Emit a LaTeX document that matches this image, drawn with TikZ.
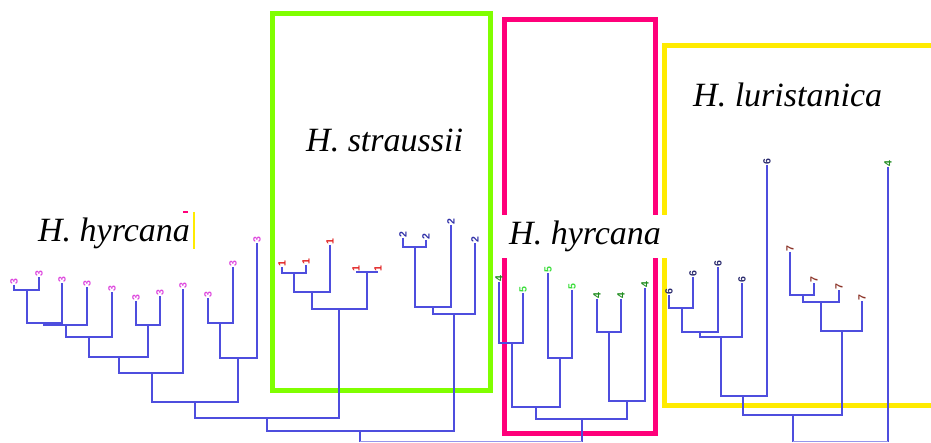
\documentclass[tikz,border=0pt]{standalone}
\usepackage{fontspec}
\setmainfont{Liberation Serif}
\newfontfamily\tipfont{Liberation Sans}
\definecolor{branchblue}{RGB}{78,78,222}
\definecolor{rootblue}{RGB}{150,150,235}
\definecolor{cthree}{RGB}{222,72,222}
\definecolor{cone}{RGB}{225,30,30}
\definecolor{ctwo}{RGB}{48,48,168}
\definecolor{cfive}{RGB}{60,222,60}
\definecolor{cfour}{RGB}{32,140,32}
\definecolor{csix}{RGB}{42,42,110}
\definecolor{cseven}{RGB}{140,52,40}
\definecolor{boxgreen}{RGB}{128,255,0}
\definecolor{boxpink}{RGB}{255,0,122}
\definecolor{boxyellow}{RGB}{255,235,0}
\tikzset{
  branch/.style={draw=branchblue, line width=1.8pt},
  rootline/.style={draw=rootblue, line width=1.1pt},
  tip/.style={rotate=90, anchor=west, inner sep=0.6pt, font=\tipfont\bfseries\fontsize{10.5}{11}\selectfont},
  groupbox/.style={line width=5pt},
  taxon/.style={anchor=base west, inner sep=0pt, font=\itshape\fontsize{34}{37}\selectfont},
}
% leaf: name, x, y, colour, digit
\newcommand\leafmark[5]{%
  \coordinate (#1) at (#2,#3);
  \node[tip, text=#4] (#1-t) at (#1) {#5};}
% internal node joining two children
\newcommand\clade[3]{\draw[branch] (#2) |- (#1) -| (#3);}
\begin{document}
\begin{tikzpicture}[x=1pt, y=-1pt]
\useasboundingbox (0,0) rectangle (931,443);
\clip (0,0) rectangle (931,443);
\fill[white] (0,0) rectangle (931,443);

% group frames
\draw[groupbox, boxgreen] (272.5,14) rectangle (490.5,390);
\draw[groupbox, boxpink] (504.5,20) rectangle (655,433.5);
\draw[groupbox, boxyellow] (664,45.5) rectangle (960,405);

% small marks beside the left label
\draw[boxyellow, line width=1.6pt] (194,212) -- (194,249);
\draw[boxpink, line width=2pt] (183,212) -- (187.5,212);

% ---- H. hyrcana (left clade)
\leafmark{h1}{14}{285}{cthree}{3}
\leafmark{h2}{39}{277}{cthree}{3}
\leafmark{h3}{62}{283}{cthree}{3}
\leafmark{h4}{87}{287}{cthree}{3}
\leafmark{h5}{112}{292}{cthree}{3}
\leafmark{h6}{136}{301}{cthree}{3}
\leafmark{h7}{160}{296}{cthree}{3}
\leafmark{h8}{183}{289}{cthree}{3}
\leafmark{h9}{208}{298}{cthree}{3}
\leafmark{h10}{233}{267}{cthree}{3}
\leafmark{h11}{257}{243}{cthree}{3}
\coordinate (n12) at (27,290);
\coordinate (n123) at (44,323);
\coordinate (n1234) at (66,325);
\coordinate (n1to5) at (89,337);
\coordinate (n67) at (148,325);
\coordinate (n1to7) at (119,357);
\coordinate (n1to8) at (152,373);
\coordinate (n910) at (220,323);
\coordinate (n9to11) at (238,358);
\coordinate (nhy) at (195,402);
\clade{n12}{h1}{h2}
\clade{n123}{n12}{h3}
\clade{n1234}{n123}{h4}
\clade{n1to5}{n1234}{h5}
\clade{n67}{h6}{h7}
\clade{n1to7}{n1to5}{n67}
\clade{n1to8}{n1to7}{h8}
\clade{n910}{h9}{h10}
\clade{n9to11}{n910}{h11}
\clade{nhy}{n1to8}{n9to11}

% ---- H. straussii, first subclade
\leafmark{s1}{282}{267}{cone}{1}
\leafmark{s2}{306}{265}{cone}{1}
\leafmark{s3}{330}{245}{cone}{1}
\leafmark{s4}{356}{272}{cone}{1}
\leafmark{s5}{378}{272}{cone}{1}
\coordinate (ns12) at (294,273);
\coordinate (ns123) at (312,292);
\coordinate (ns45) at (367,272);
\coordinate (nsa) at (339,309);
\clade{ns12}{s1}{s2}
\clade{ns123}{ns12}{s3}
\clade{ns45}{s4}{s5}
\clade{nsa}{ns123}{ns45}
\coordinate (na) at (267,418);
\clade{na}{nhy}{nsa}

% ---- H. straussii, second subclade
\leafmark{t1}{403}{238}{ctwo}{2}
\leafmark{t2}{426}{240}{ctwo}{2}
\leafmark{t3}{451}{225}{ctwo}{2}
\leafmark{t4}{475}{243}{ctwo}{2}
\coordinate (nt12) at (415,247);
\coordinate (nt123) at (433,307);
\coordinate (nsb) at (454,314);
\clade{nt12}{t1}{t2}
\clade{nt123}{nt12}{t3}
\clade{nsb}{nt123}{t4}
\coordinate (nb) at (360,431);
\clade{nb}{na}{nsb}

% ---- H. hyrcana (middle clade)
\leafmark{g1}{499}{282}{cfour}{4}
\leafmark{g2}{523}{293}{cfive}{5}
\leafmark{g3}{548}{273}{cfive}{5}
\leafmark{g4}{572}{290}{cfive}{5}
\leafmark{g5}{597}{299}{cfour}{4}
\leafmark{g6}{621}{299}{cfour}{4}
\leafmark{g7}{645}{288}{cfour}{4}
\coordinate (ng12) at (512,343);
\coordinate (ng34) at (560,358);
\coordinate (ng1to4) at (536,407);
\coordinate (ng56) at (609,332);
\coordinate (ng5to7) at (627,401);
\coordinate (ngh) at (582,419);
\clade{ng12}{g1}{g2}
\clade{ng34}{g3}{g4}
\clade{ng1to4}{ng12}{ng34}
\clade{ng56}{g5}{g6}
\clade{ng5to7}{ng56}{g7}
\clade{ngh}{ng1to4}{ng5to7}

% ---- H. luristanica
\leafmark{r1}{669}{295}{csix}{6}
\leafmark{r2}{693}{277}{csix}{6}
\leafmark{r3}{718}{267}{csix}{6}
\leafmark{r4}{742}{283}{csix}{6}
\leafmark{r5}{767}{165}{csix}{6}
\leafmark{r6}{790}{252}{cseven}{7}
\leafmark{r7}{814}{283}{cseven}{7}
\leafmark{r8}{839}{290}{cseven}{7}
\leafmark{r9}{862}{301}{cseven}{7}
\leafmark{r10}{888}{167}{cfour}{4}
\coordinate (nr12) at (682,308);
\coordinate (nr123) at (700,332);
\coordinate (nr1to4) at (721,337);
\coordinate (nr1to5) at (743,396);
\coordinate (nr67) at (803,295);
\coordinate (nr678) at (821,302);
\coordinate (nr6to9) at (842,331);
\coordinate (nrl) at (793,415);
\clade{nr12}{r1}{r2}
\clade{nr123}{nr12}{r3}
\clade{nr1to4}{nr123}{r4}
\clade{nr1to5}{nr1to4}{r5}
\clade{nr67}{r6}{r7}
\clade{nr678}{nr67}{r8}
\clade{nr6to9}{nr678}{r9}
\clade{nrl}{nr1to5}{nr6to9}

% ---- deepest joins, cut by the lower edge
\coordinate (nc) at (471,441.5);
\coordinate (nd) at (840,441.5);
\draw[branch] (nb) -- (nb |- nc);
\draw[branch] (ngh) -- (ngh |- nc);
\draw[branch] (nrl) -- (nrl |- nd);
\draw[branch] (r10) -- (r10 |- nd);
\draw[rootline] (nb |- nc) -- (ngh |- nc);
\draw[rootline] (nrl |- nd) -- (r10 |- nd);

% ---- group names
\node[taxon] (lhy) at (38,242) {H. hyrcana};
\node[taxon] (lst) at (306,152) {H. straussii};
\node[taxon] (llu) at (693,107) {H. luristanica};
\fill[white] (500,215) rectangle (667,258);
\node[taxon] (lhm) at (509,245) {H. hyrcana};
\end{tikzpicture}
\end{document}
